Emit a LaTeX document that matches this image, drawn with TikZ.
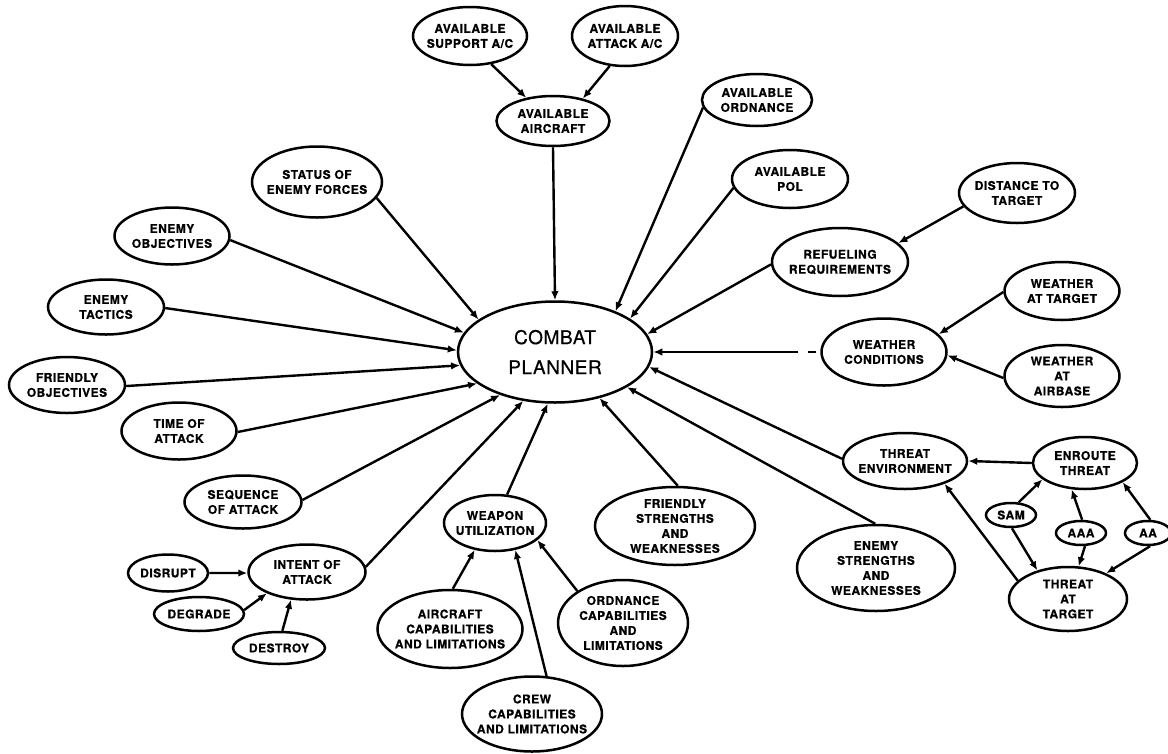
\documentclass[tikz,border=0pt]{standalone}
\usepackage{fontspec}
\newfontfamily\bubfont[LetterSpace=4, BoldFeatures={FakeBold=0.8}]{TeX Gyre Heros}
\newfontfamily\hubfont[LetterSpace=3, FakeBold=0.5]{TeX Gyre Heros}
\usetikzlibrary{arrows.meta,shapes.geometric}

% bubble: name, x, y, width, height, text
\newcommand\bub[6]{%
  \node[bubble, minimum width=#4pt, minimum height=#5pt] (#1) at (#2,#3) {};
  \node[lbl] (#1-t) at (#1.center) {#6};}

\begin{document}
\begin{tikzpicture}[x=1pt,y=-1pt,
  bubble/.style={ellipse, draw, line width=2.5pt, inner sep=0pt},
  lbl/.style={align=center, inner sep=0pt,
    font=\bubfont\bfseries\fontsize{12}{15}\selectfont},
  arr/.style={draw, line width=2.4pt, -{Latex[length=9pt,width=7.5pt]}}]
\useasboundingbox (0,0) rectangle (1168,753);

% hub
\node[bubble, minimum width=194pt, minimum height=101pt] (cp) at (555,352) {};
\node[align=center, inner sep=0pt,
      font=\hubfont\fontsize{19}{30}\selectfont] (cp-t) at (cp.center) {COMBAT\\PLANNER};

% aircraft branch
\bub{sup}{470}{36}{114}{58}{AVAILABLE\\SUPPORT A/C}
\bub{att}{625}{36}{106}{60}{AVAILABLE\\ATTACK A/C}
\bub{air}{553}{121}{113}{50}{AVAILABLE\\AIRCRAFT}

% upper right
\bub{ord}{757}{100}{110}{52}{AVAILABLE\\ORDNANCE}
\bub{pol}{790}{179}{116}{58}{AVAILABLE\\POL}
\bub{dist}{1017}{193}{116}{60}{DISTANCE TO\\TARGET}
\bub{ref}{840}{262}{136}{68}{REFUELING\\REQUIREMENTS}
\bub{wtar}{1062}{291}{115}{58}{WEATHER\\AT TARGET}
\bub{wcon}{884}{352}{125}{67}{WEATHER\\CONDITIONS}
\bub{wair}{1062}{376}{115}{62}{WEATHER\\AT\\AIRBASE}

% left side
\bub{stat}{317}{182}{130}{71}{STATUS OF\\ENEMY FORCES}
\bub{eobj}{172}{236}{115}{57}{ENEMY\\OBJECTIVES}
\bub{etac}{106}{307}{116}{55}{ENEMY\\TACTICS}
\bub{fobj}{67}{385}{116}{56}{FRIENDLY\\OBJECTIVES}
\bub{time}{179}{431}{115}{57}{TIME OF\\ATTACK}
\bub{seq}{243}{502}{117}{53}{SEQUENCE\\OF ATTACK}
\bub{intent}{307}{572}{117}{55}{INTENT OF\\ATTACK}
\bub{dis}{168}{573}{80}{37}{DISRUPT}
\bub{deg}{199}{614}{90}{34}{DEGRADE}
\bub{des}{279}{648}{92}{32}{DESTROY}

% weapons
\bub{wpn}{495}{523}{102}{56}{WEAPON\\UTILIZATION}
\bub{acap}{450}{629}{145}{78}{AIRCRAFT\\CAPABILITIES\\AND LIMITATIONS}
\bub{crew}{532}{714}{140}{75}{CREW\\CAPABILITIES\\AND LIMITATIONS}
\bub{ocap}{623}{623}{130}{86}{ORDNANCE\\CAPABILITIES\\AND\\LIMITATIONS}

% strengths and threats
\bub{fsw}{675}{526}{160}{78}{FRIENDLY\\STRENGTHS\\AND\\WEAKNESSES}
\bub{esw}{876}{568}{158}{86}{ENEMY\\STRENGTHS\\AND\\WEAKNESSES}
\bub{tenv}{905}{461}{124}{56}{THREAT\\ENVIRONMENT}
\bub{enr}{1085}{463}{104}{52}{ENROUTE\\THREAT}
\bub{sam}{1011}{515}{50}{24}{SAM}
\bub{aaa}{1081}{533}{50}{24}{AAA}
\bub{aa}{1148}{533}{46}{24}{AA}
\bub{tat}{1068}{599}{118}{64}{THREAT\\AT\\TARGET}

% connectors
\draw[arr] (sup.307) -- (air.139);
\draw[arr] (att.243) -- (air.37);
\draw[arr] (air.south) -- (cp.north);
\draw[arr] (ord.188) -- (cp.34);
\draw[arr] (pol.189) -- (cp.24);
\draw[arr] (dist.194) -- (ref.18);
\draw[arr] (ref.182) -- (cp.11);
\draw[arr] (wtar.181) -- (wcon.18);
\draw[arr] (wair.182) -- (wcon.357);
\draw[arr, dash pattern=on 0pt off 4pt on 8pt off 10pt on 400pt] (wcon.west) -- (cp.east);
\draw[arr] (stat.345) -- (cp.157);
\draw[arr] (eobj.356) -- (cp.168);
\draw[arr] (etac.359) -- (cp.179);
\draw[arr] (fobj.359) -- (cp.188);
\draw[arr] (time.359) -- (cp.202);
\draw[arr] (seq.2) -- (cp.218);
\draw[arr] (intent.5) -- (cp.237);
\draw[arr] (wpn.67) -- (cp.262);
\draw[arr] (fsw.86) -- (cp.314);
\draw[arr] (esw.91) -- (cp.334);
\draw[arr] (tenv.178) -- (cp.351);
\draw[arr] (enr.west) -- (tenv.east);
\draw[arr] (tat.160) -- (tenv.330);
\draw[arr] (sam.59) -- (enr.201);
\draw[arr] (sam.274) -- (tat.137);
\draw[arr] (aaa.85) -- (enr.243);
\draw[arr] (aaa.287) -- (tat.72);
\draw[arr] (aa.80) -- (enr.333);
\draw[arr] (aa.279) -- (tat.34);
\draw[arr] (dis.east) -- (intent.181);
\draw[arr] (deg.5) -- (intent.208);
\draw[arr] (des.79) -- (intent.240);
\draw[arr] (acap.86) -- (wpn.233);
\draw[arr] (crew.69) -- (wpn.307);
\draw[arr] (ocap.145) -- (wpn.338);
\end{tikzpicture}
\end{document}
